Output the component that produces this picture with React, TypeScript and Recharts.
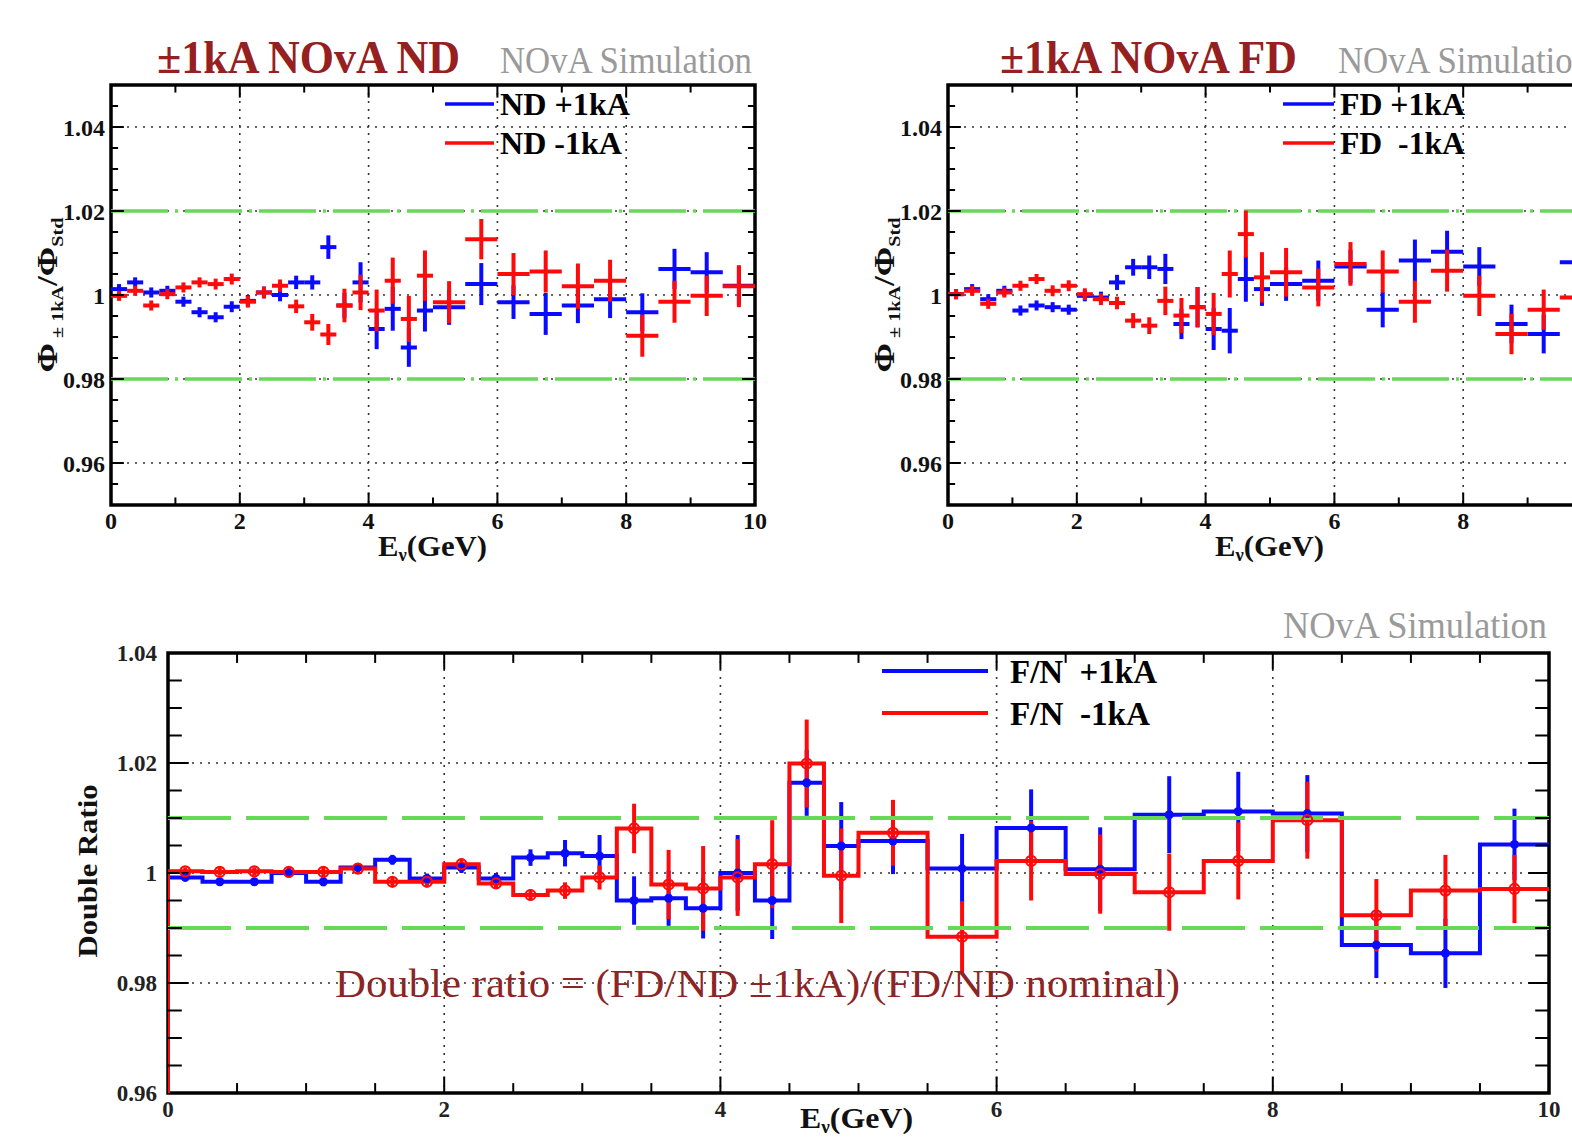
import React from 'react';
import {
  ComposedChart, Line, Scatter, XAxis, YAxis, CartesianGrid,
  ReferenceLine, ReferenceArea, ErrorBar,
} from 'recharts';

const FONT = "'Liberation Serif', 'Times New Roman', 'DejaVu Serif', serif";
const BLUE = '#0a0aff';
const RED = '#ff0a0a';
const GREEN = '#66d957';
const TITLE = '#962020';

// ---------- binning (GeV) ----------
const binEdges = [
  0, 0.25, 0.5, 0.75, 1, 1.25, 1.5, 1.75, 2, 2.25, 2.5, 2.75, 3, 3.25, 3.5, 3.75, 4, 4.25, 4.5, 4.75, 5,
  5.5, 6, 6.5, 7, 7.5, 8, 8.5, 9, 9.5, 10,
];

// ---------- ND flux ratio ----------
const ndPlus = [
  1.0014, 1.003, 1.0006, 1.001, 0.9984, 0.9959, 0.9947, 0.9972, 0.9986, 1.0006,
  1.0, 1.003, 1.003, 1.0114, 0.9975, 1.003, 0.9919, 0.9967, 0.9875, 0.9963,
  0.9971, 1.0026, 0.9983, 0.9955, 0.9975, 0.999, 0.9959, 1.0062, 1.0054, 1.0022,
];
const ndPlusErr = [
  0.0012, 0.0012, 0.0012, 0.0012, 0.0012, 0.0012, 0.0012, 0.0013, 0.0014, 0.0014,
  0.0015, 0.0016, 0.0017, 0.0028, 0.003, 0.0048, 0.0048, 0.0052, 0.0046, 0.005,
  0.0042, 0.005, 0.004, 0.005, 0.0042, 0.0045, 0.0045, 0.0048, 0.0048, 0.0045,
];
const ndMinus = [
  0.9998, 1.001, 0.9975, 1.0002, 1.0018, 1.003, 1.0026, 1.0038, 0.9984, 1.0006,
  1.0022, 0.9973, 0.9935, 0.9906, 0.9975, 1.0006, 0.9963, 1.0034, 0.9943, 1.0046,
  0.9983, 1.0133, 1.005, 1.0056, 1.0021, 1.0034, 0.9903, 0.9984, 0.9998, 1.0021,
];
const ndMinusErr = [
  0.0012, 0.0012, 0.0012, 0.0012, 0.0012, 0.0012, 0.0013, 0.0013, 0.0014, 0.0014,
  0.0015, 0.0016, 0.002, 0.0025, 0.004, 0.0042, 0.005, 0.0055, 0.0055, 0.006,
  0.005, 0.0048, 0.005, 0.005, 0.0054, 0.005, 0.005, 0.005, 0.0048, 0.005,
];

// ---------- FD flux ratio ----------
const fdPlus = [
  1.0002, 1.0014, 0.999, 1.001, 0.9963, 0.9975, 0.9971, 0.9965, 0.9998, 0.9994,
  1.003, 1.0066, 1.0066, 1.0062, 0.9931, 0.9971, 0.9919, 0.9915, 1.0038, 1.0014,
  1.0026, 1.0034, 1.0068, 0.9965, 1.0082, 1.0103, 1.0068, 0.9931, 0.9907, 1.0078,
];
const fdPlusErr = [
  0.0012, 0.0012, 0.0012, 0.0012, 0.0012, 0.0012, 0.0012, 0.0012, 0.0013, 0.0014,
  0.0018, 0.002, 0.0028, 0.0036, 0.0036, 0.0048, 0.005, 0.0054, 0.0054, 0.004,
  0.004, 0.0048, 0.004, 0.0042, 0.005, 0.005, 0.0046, 0.0046, 0.0046, 0.0048,
];
const fdMinus = [
  1.0002, 1.001, 0.9979, 1.0006, 1.0022, 1.0038, 1.001, 1.0022, 1.0002, 0.999,
  0.9981, 0.9939, 0.9927, 0.9986, 0.9951, 0.9971, 0.9955, 1.005, 1.0145, 1.0042,
  1.0054, 1.0018, 1.0074, 1.0056, 0.9984, 1.0058, 0.9998, 0.9907, 0.9965, 0.9994,
];
const fdMinusErr = [
  0.0012, 0.0012, 0.0012, 0.0012, 0.0012, 0.0012, 0.0013, 0.0013, 0.0014, 0.0014,
  0.0015, 0.0018, 0.002, 0.0034, 0.0042, 0.0048, 0.005, 0.0056, 0.0056, 0.006,
  0.0058, 0.0045, 0.0052, 0.005, 0.005, 0.005, 0.0048, 0.0048, 0.0048, 0.005,
];

// ---------- double ratio F/N ----------
const fnPlus = [
  0.9992, 0.9984, 0.9984, 1.0, 0.9984, 1.001, 1.0024, 0.999, 1.001, 0.999,
  1.0028, 1.0036, 1.0031, 0.995, 0.9954, 0.9936, 1.0, 0.995, 1.0164, 1.0049,
  1.0058, 1.0008, 1.0082, 1.0007, 1.0106, 1.0112, 1.0108, 0.9869, 0.9854, 1.0052,
];
const fnPlusErr = [
  0.0007, 0.0007, 0.0007, 0.0008, 0.0008, 0.0008, 0.0009, 0.0009, 0.001, 0.001,
  0.0015, 0.0024, 0.0038, 0.0044, 0.005, 0.0055, 0.0069, 0.007, 0.006, 0.008,
  0.006, 0.0063, 0.007, 0.0076, 0.007, 0.0072, 0.007, 0.006, 0.0063, 0.0065,
];
const fnMinus = [
  1.0003, 1.0002, 1.0003, 1.0002, 1.0002, 1.0008, 0.9984, 0.9984, 1.0016, 0.9981,
  0.996, 0.9968, 0.9992, 1.0081, 0.9979, 0.9972, 0.9992, 1.0016, 1.0199, 0.9995,
  1.0073, 0.9884, 1.0022, 0.9998, 0.9965, 1.0022, 1.0096, 0.9923, 0.9968, 0.9971,
];
const fnMinusErr = [
  0.0007, 0.0007, 0.0007, 0.0008, 0.0008, 0.0008, 0.0009, 0.0009, 0.001, 0.001,
  0.001, 0.0015, 0.0022, 0.0045, 0.0063, 0.0077, 0.007, 0.008, 0.008, 0.0086,
  0.006, 0.0065, 0.0072, 0.0072, 0.007, 0.007, 0.007, 0.0066, 0.0065, 0.0062,
];

// ---------- axes ----------
const xTicks = [0, 2, 4, 6, 8, 10];
const xTickLabels = ['0', '2', '4', '6', '8', '10'];
const yTicks = [0.96, 0.98, 1, 1.02, 1.04];
const yTickLabels = ['0.96', '0.98', '1', '1.02', '1.04'];

// ---------- helpers ----------
const centers = binEdges.slice(0, -1).map((e, i) => (e + binEdges[i + 1]) / 2);
const halfWidths = binEdges.slice(0, -1).map((e, i) => (binEdges[i + 1] - e) / 2);

const crossData = (vals: number[], errs: number[]) =>
  vals.map((v, i) => ({ x: centers[i], y: v, ex: halfWidths[i], ey: errs[i] }));

const stepData = (vals: number[]) => [
  { x: 0, y: 0.96 },
  ...vals.map((v, i) => ({ x: binEdges[i], y: v })),
  { x: 10, y: vals[vals.length - 1] },
];

const fmtY = (v: number) => {
  const i = yTicks.findIndex((t) => Math.abs(t - v) < 1e-9);
  return i >= 0 ? yTickLabels[i] : String(v);
};
const fmtX = (v: number) => {
  const i = xTicks.findIndex((t) => Math.abs(t - v) < 1e-9);
  return i >= 0 ? xTickLabels[i] : String(v);
};
// the far-detector panel is cut by the picture's edge before its "10" label
const fmtXCut = (v: number) => (v >= 10 ? '' : fmtX(v));

const isMult = (v: number, step: number) => Math.abs(v / step - Math.round(v / step)) < 1e-6;

function frameTicks(
  prefix: string,
  xDom: [number, number], yDom: [number, number],
  xStep: number, yStep: number,
  xMajorStep: number, yMajorStep: number,
  vMinor: number, vMajor: number, hMinor: number, hMajor: number,
) {
  const out: React.ReactElement[] = [];
  for (let k = 1; xDom[0] + k * xStep < xDom[1] - 1e-9; k++) {
    const x = Math.round((xDom[0] + k * xStep) * 1000) / 1000;
    const len = isMult(x, xMajorStep) ? vMajor : vMinor;
    out.push(<ReferenceLine key={`${prefix}xb${k}`} segment={[{ x, y: yDom[0] }, { x, y: yDom[0] + len }]} stroke="#000" strokeWidth={2} />);
    out.push(<ReferenceLine key={`${prefix}xt${k}`} segment={[{ x, y: yDom[1] }, { x, y: yDom[1] - len }]} stroke="#000" strokeWidth={2} />);
  }
  for (let k = 1; yDom[0] + k * yStep < yDom[1] - 1e-9; k++) {
    const y = Math.round((yDom[0] + k * yStep) * 100000) / 100000;
    const len = isMult(y, yMajorStep) ? hMajor : hMinor;
    out.push(<ReferenceLine key={`${prefix}yl${k}`} segment={[{ x: xDom[0], y }, { x: xDom[0] + len, y }]} stroke="#000" strokeWidth={2} />);
    out.push(<ReferenceLine key={`${prefix}yr${k}`} segment={[{ x: xDom[1], y }, { x: xDom[1] - len, y }]} stroke="#000" strokeWidth={2} />);
  }
  return out;
}

const noShape = () => <g />;

function TopPanel({ plus, plusErr, minus, minusErr, id, cut }: { plus: number[]; plusErr: number[]; minus: number[]; minusErr: number[]; id: string; cut?: boolean }) {
  const pData = crossData(plus, plusErr);
  const mData = crossData(minus, minusErr);
  const tick = { fontSize: 24, fontWeight: 'bold', fontFamily: FONT, fill: '#111' };
  return (
    <ComposedChart width={790} height={580} margin={{ top: 85, right: 35, bottom: 45, left: 51 }}>
      <CartesianGrid stroke="#333" strokeDasharray="2 6" strokeWidth={1.6} />
      <XAxis type="number" dataKey="x" domain={[0, 10]} ticks={xTicks} interval={0} allowDataOverflow
        tickLine={false} axisLine={false} tickSize={0} tickMargin={7} height={30} tick={tick}
        tickFormatter={cut ? fmtXCut : fmtX} />
      <YAxis type="number" dataKey="y" domain={[0.95, 1.05]} ticks={yTicks} interval={0} allowDataOverflow
        tickLine={false} axisLine={false} tickSize={0} tickMargin={6} width={60} tick={tick} tickFormatter={fmtY} />
      <ReferenceLine y={1.02} stroke={GREEN} strokeWidth={3.5} strokeDasharray="57 7 3 7" />
      <ReferenceLine y={0.98} stroke={GREEN} strokeWidth={3.5} strokeDasharray="57 7 3 7" />
      <Scatter data={pData} fill={BLUE} shape={noShape} isAnimationActive={false}>
        <ErrorBar dataKey="ex" direction="x" width={0} stroke={BLUE} strokeWidth={4} isAnimationActive={false} />
        <ErrorBar dataKey="ey" direction="y" width={0} stroke={BLUE} strokeWidth={4} isAnimationActive={false} />
      </Scatter>
      <Scatter data={mData} fill={RED} shape={noShape} isAnimationActive={false}>
        <ErrorBar dataKey="ex" direction="x" width={0} stroke={RED} strokeWidth={4} isAnimationActive={false} />
        <ErrorBar dataKey="ey" direction="y" width={0} stroke={RED} strokeWidth={4} isAnimationActive={false} />
      </Scatter>
      {frameTicks(id, [0, 10], [0.95, 1.05], 1, 0.005, 2, 0.02, 0.0018, 0.003, 0.11, 0.2)}
      <ReferenceArea x1={0} x2={10} y1={0.95} y2={1.05} fill="none" stroke="#000" strokeWidth={3.5} />
    </ComposedChart>
  );
}

function BottomPanel() {
  const tick = { fontSize: 23, fontWeight: 'bold', fontFamily: FONT, fill: '#222' };
  const pStep = stepData(fnPlus);
  const mStep = stepData(fnMinus);
  const pPts = crossData(fnPlus, fnPlusErr);
  const mPts = crossData(fnMinus, fnMinusErr);
  return (
    <ComposedChart width={1572} height={543} margin={{ top: 53, right: 23, bottom: 20, left: 88 }}>
      <CartesianGrid stroke="#333" strokeDasharray="2 6" strokeWidth={1.6} />
      <XAxis type="number" dataKey="x" domain={[0, 10]} ticks={xTicks} interval={0} allowDataOverflow
        tickLine={false} axisLine={false} tickSize={0} tickMargin={8} height={30} tick={tick} tickFormatter={fmtX} />
      <YAxis type="number" dataKey="y" domain={[0.96, 1.04]} ticks={yTicks} interval={0} allowDataOverflow
        tickLine={false} axisLine={false} tickSize={0} tickMargin={11} width={80} tick={tick} tickFormatter={fmtY} />
      <Line data={pStep} dataKey="y" type="stepAfter" stroke={BLUE} strokeWidth={4} dot={false} isAnimationActive={false} />
      <Scatter data={pPts} fill={BLUE} isAnimationActive={false}
        shape={(p: any) => <circle cx={p.cx} cy={p.cy} r={4.5} fill={BLUE} />}>
        <ErrorBar dataKey="ey" direction="y" width={0} stroke={BLUE} strokeWidth={4} isAnimationActive={false} />
      </Scatter>
      <Line data={mStep} dataKey="y" type="stepAfter" stroke={RED} strokeWidth={4} dot={false} isAnimationActive={false} />
      <Scatter data={mPts} fill={RED} isAnimationActive={false}
        shape={(p: any) => <circle cx={p.cx} cy={p.cy} r={5} fill="none" stroke={RED} strokeWidth={2.2} />}>
        <ErrorBar dataKey="ey" direction="y" width={0} stroke={RED} strokeWidth={4} isAnimationActive={false} />
      </Scatter>
      <ReferenceLine y={1.01} stroke={GREEN} strokeWidth={4} strokeDasharray="63 15" />
      <ReferenceLine y={0.99} stroke={GREEN} strokeWidth={4} strokeDasharray="63 15" />
      {frameTicks('b', [0, 10], [0.96, 1.04], 0.5, 0.005, 2, 0.02, 0.0018, 0.003, 0.1, 0.15)}
      <ReferenceArea x1={0} x2={10} y1={0.96} y2={1.04} fill="none" stroke="#000" strokeWidth={3.5} />
    </ComposedChart>
  );
}

function Overlay() {
  const bold = { fontFamily: FONT, fontWeight: 'bold' as const };
  const yLab = (tx: number) => (
    <text transform={`translate(${tx},295) rotate(-90)`} textAnchor="middle" fill="#111" {...bold}
      textLength={155} lengthAdjust="spacingAndGlyphs">
      <tspan fontSize={30}>Φ</tspan>
      <tspan fontSize={17} dy={6}> ± 1kA</tspan>
      <tspan fontSize={30} dy={-6}>/Φ</tspan>
      <tspan fontSize={17} dy={6}>Std</tspan>
    </text>
  );
  const xLab = (x: number, y: number, len: number) => (
    <text x={x} y={y} fill="#111" {...bold} textLength={len} lengthAdjust="spacingAndGlyphs">
      <tspan fontSize={30}>E</tspan>
      <tspan fontSize={18} dy={5}>ν</tspan>
      <tspan fontSize={30} dy={-5}>(GeV)</tspan>
    </text>
  );
  return (
    <svg width={1572} height={1143} style={{ position: 'absolute', left: 0, top: 0, pointerEvents: 'none' }}>
      {/* top-left panel */}
      <text x={157} y={73} fontSize={46} fill={TITLE} {...bold} textLength={303} lengthAdjust="spacingAndGlyphs">±1kA NOvA ND</text>
      <text x={500} y={73} fontSize={38} fill="#9a9a9a" fontFamily={FONT} textLength={252} lengthAdjust="spacingAndGlyphs">NOvA Simulation</text>
      <line x1={445} y1={104} x2={494} y2={104} stroke={BLUE} strokeWidth={3.5} />
      <line x1={445} y1={143} x2={494} y2={143} stroke={RED} strokeWidth={3.5} />
      <text x={500} y={115} fontSize={32} fill="#000" {...bold} textLength={130} lengthAdjust="spacingAndGlyphs">ND +1kA</text>
      <text x={500} y={154} fontSize={32} fill="#000" {...bold} textLength={122} lengthAdjust="spacingAndGlyphs">ND -1kA</text>
      {yLab(57)}
      {xLab(378, 556, 109)}

      {/* top-right panel */}
      <text x={1000} y={73} fontSize={46} fill={TITLE} {...bold} textLength={297} lengthAdjust="spacingAndGlyphs">±1kA NOvA FD</text>
      <text x={1338} y={73} fontSize={38} fill="#9a9a9a" fontFamily={FONT} textLength={252} lengthAdjust="spacingAndGlyphs">NOvA Simulation</text>
      <line x1={1283} y1={104} x2={1334} y2={104} stroke={BLUE} strokeWidth={3.5} />
      <line x1={1283} y1={143} x2={1334} y2={143} stroke={RED} strokeWidth={3.5} />
      <text x={1340} y={115} fontSize={32} fill="#000" {...bold} textLength={125} lengthAdjust="spacingAndGlyphs">FD +1kA</text>
      <text x={1340} y={154} fontSize={32} fill="#000" {...bold} textLength={125} lengthAdjust="spacingAndGlyphs" style={{ whiteSpace: 'pre' }}>FD  -1kA</text>
      {yLab(894)}
      {xLab(1215, 556, 109)}

      {/* bottom panel */}
      <text x={1283} y={638} fontSize={37} fill="#9a9a9a" fontFamily={FONT} textLength={264} lengthAdjust="spacingAndGlyphs">NOvA Simulation</text>
      <line x1={882} y1={671} x2={988} y2={671} stroke={BLUE} strokeWidth={4} />
      <line x1={882} y1={713} x2={988} y2={713} stroke={RED} strokeWidth={4} />
      <text x={1010} y={683} fontSize={33} fill="#000" {...bold} textLength={147} lengthAdjust="spacingAndGlyphs" style={{ whiteSpace: 'pre' }}>F/N  +1kA</text>
      <text x={1010} y={725} fontSize={33} fill="#000" {...bold} textLength={140} lengthAdjust="spacingAndGlyphs" style={{ whiteSpace: 'pre' }}>F/N  -1kA</text>
      <text x={335} y={997} fontSize={40} fill="#8c2626" fontFamily={FONT} textLength={845} lengthAdjust="spacingAndGlyphs">Double ratio = (FD/ND ±1kA)/(FD/ND nominal)</text>
      <text transform="translate(97,871) rotate(-90)" textAnchor="middle" fontSize={28} fill="#111" {...bold}
        textLength={173} lengthAdjust="spacingAndGlyphs">Double Ratio</text>
      {xLab(800, 1128, 113)}
    </svg>
  );
}

export default function App() {
  return (
    <div style={{ position: 'absolute', left: 0, top: 0, width: 1572, height: 1143, overflow: 'hidden', background: '#fff' }}>
      <div style={{ position: 'absolute', left: 0, top: 0 }}>
        <TopPanel plus={ndPlus} plusErr={ndPlusErr} minus={ndMinus} minusErr={ndMinusErr} id="nd" />
      </div>
      <div style={{ position: 'absolute', left: 837, top: 0 }}>
        <TopPanel plus={fdPlus} plusErr={fdPlusErr} minus={fdMinus} minusErr={fdMinusErr} id="fd" cut />
      </div>
      <div style={{ position: 'absolute', left: 0, top: 600 }}>
        <BottomPanel />
      </div>
      <Overlay />
    </div>
  );
}
